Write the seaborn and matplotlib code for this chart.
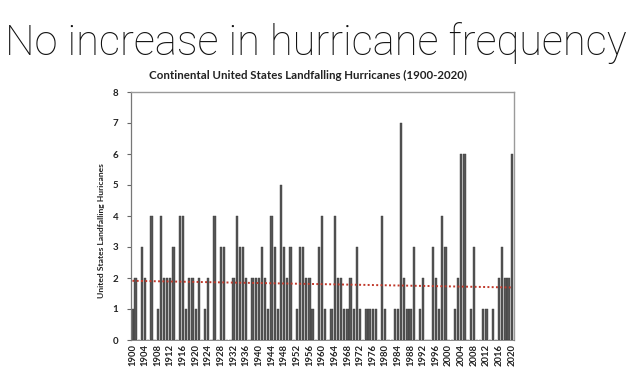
import numpy as np
import pandas as pd
import matplotlib
matplotlib.use("Agg")
import matplotlib.pyplot as plt
import seaborn as sns

years = list(range(1900, 2021))
counts = [1, 2, 0, 3, 2, 0, 4, 0, 1, 4,
          2, 2, 2, 3, 0, 4, 4, 1, 2, 2,
          1, 2, 0, 1, 2, 0, 4, 0, 3, 3,
          0, 0, 2, 4, 3, 3, 2, 0, 2, 2,
          2, 3, 2, 1, 4, 3, 1, 5, 3, 2,
          3, 0, 1, 3, 3, 2, 2, 1, 0, 3,
          4, 1, 0, 1, 4, 2, 2, 1, 1, 2,
          1, 3, 1, 0, 1, 1, 1, 1, 0, 4,
          1, 0, 0, 1, 1, 7, 2, 1, 1, 3,
          0, 1, 2, 0, 0, 3, 2, 1, 4, 3,
          0, 0, 1, 2, 6, 6, 0, 1, 3, 0,
          0, 1, 1, 0, 1, 0, 2, 3, 2, 2,
          6]
yticks = list(range(0, 9))
xtick_years = list(range(1900, 2021, 4))

main_title = "No increase in hurricane frequency"
chart_title = "Continental United States Landfalling Hurricanes (1900-2020)"
ylabel = "United States Landfalling Huricanes"

df = pd.DataFrame({"year": [str(y) for y in years], "count": counts})

sns.set_theme(style="white")
plt.rcParams['font.family'] = ['Lato', 'DejaVu Sans']

fig = plt.figure(figsize=(6.4, 3.78), dpi=100)
fig.patch.set_facecolor("white")
ax = fig.add_axes([131/640, 1-340/378, (514-131)/640, (340-92)/378])

sns.barplot(data=df, x="year", y="count", color="#555555", width=0.72,
            saturation=1, ax=ax, edgecolor="#3a3a3a", linewidth=0.3)

# linear trend
xs = np.arange(len(years))
coef = np.polyfit(xs, np.array(counts, dtype=float), 1)
ax.plot(xs, np.polyval(coef, xs), color="#c0392b", linestyle=(0, (1, 1.2)),
        linewidth=1.4, zorder=3)

ax.set_xlim(-0.45, len(years) - 0.3)
ax.set_ylim(0, 8)
ax.set_yticks(yticks)
ax.set_yticklabels([str(v) for v in yticks], fontsize=7, fontweight="bold", color="#222222")
tick_pos = [years.index(y) for y in xtick_years]
ax.set_xticks(tick_pos)
ax.set_xticklabels([str(y) for y in xtick_years], rotation=90, fontsize=6.8,
                   fontweight="bold", color="#222222")
ax.tick_params(axis="y", which="both", left=True, length=3, width=0.8, color="#666666", pad=6)
ax.tick_params(axis="x", length=0, pad=3)
ax.set_xlabel("")
ax.set_ylabel(ylabel, fontsize=6.1, fontweight="bold", color="#222222")
ax.yaxis.set_label_coords(-0.068, 0.44)

for side in ["top", "right"]:
    ax.spines[side].set_visible(True)
    ax.spines[side].set_color("#9a9a9a")
    ax.spines[side].set_linewidth(1.0)
ax.spines["left"].set_color("#777777")
ax.spines["left"].set_linewidth(0.9)
ax.spines["bottom"].set_color("#777777")
ax.spines["bottom"].set_linewidth(0.6)

fig.text(5/640, 1-55/378, main_title, fontsize=30,
         fontfamily=["Roboto", "DejaVu Sans"], fontweight="light",
         color="#111111", ha="left", va="baseline")
fig.text(308/640, 1-75/378, chart_title, fontsize=8.3, fontweight="bold",
         color="#222222", ha="center", va="center")

fig.savefig("out.png", dpi=100, facecolor="white")
